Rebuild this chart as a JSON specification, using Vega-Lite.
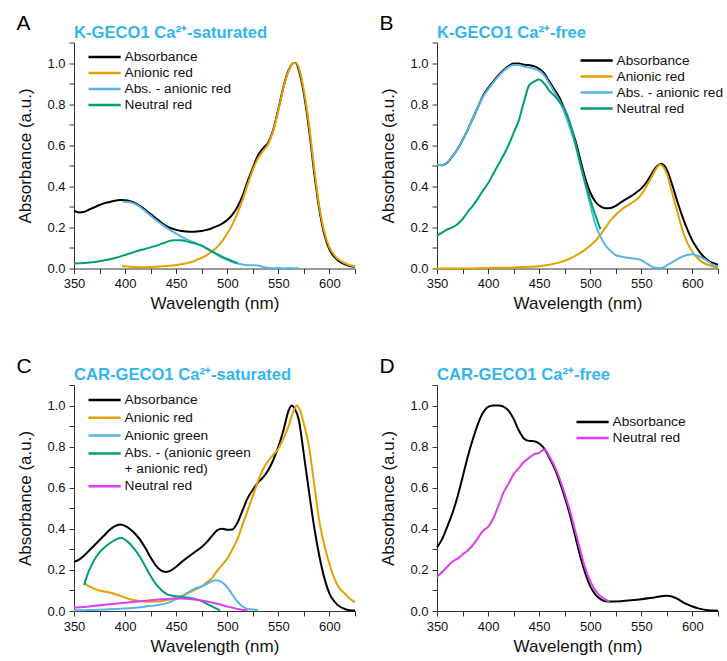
{
  "$schema": "https://vega.github.io/schema/vega-lite/v6.json",
  "padding": {"left": 16, "top": 12.5, "right": 0, "bottom": 0},
  "background": "white",
  "config": {
    "font": "Liberation Sans",
    "view": {"stroke": null},
    "axis": {"grid": false, "domainColor": "#333333", "tickColor": "#333333", "tickSize": 5, "labelFontSize": 13, "labelColor": "#111111", "titleFontSize": 17, "titleFontWeight": "normal", "titleColor": "#111111", "labelPadding": 4, "labelFlush": false, "labelOverlap": false},
    "axisX": {"titlePadding": 5},
    "axisY": {"titlePadding": 12.5},
    "legend": {"orient": "none", "title": null, "symbolType": "M-1,0H3.6", "symbolSize": 196, "symbolStrokeWidth": 2.5, "labelFontSize": 13.7, "labelColor": "#111111", "rowPadding": -0.8, "labelOffset": 20.5, "labelLimit": 300},
    "title": {"font": "Liberation Sans"}
  },
  "datasets": {
    "A": [
      {"wl":350,"v":0.281,"s":"Absorbance"},{"wl":355,"v":0.273,"s":"Absorbance"},{"wl":360,"v":0.276,"s":"Absorbance"},{"wl":365,"v":0.287,"s":"Absorbance"},{"wl":370,"v":0.298,"s":"Absorbance"},{"wl":375,"v":0.309,"s":"Absorbance"},{"wl":380,"v":0.318,"s":"Absorbance"},{"wl":385,"v":0.324,"s":"Absorbance"},{"wl":390,"v":0.33,"s":"Absorbance"},{"wl":395,"v":0.333,"s":"Absorbance"},{"wl":400,"v":0.332,"s":"Absorbance"},{"wl":405,"v":0.327,"s":"Absorbance"},{"wl":410,"v":0.318,"s":"Absorbance"},{"wl":415,"v":0.303,"s":"Absorbance"},{"wl":420,"v":0.285,"s":"Absorbance"},{"wl":425,"v":0.265,"s":"Absorbance"},{"wl":430,"v":0.245,"s":"Absorbance"},{"wl":435,"v":0.225,"s":"Absorbance"},{"wl":440,"v":0.208,"s":"Absorbance"},{"wl":445,"v":0.196,"s":"Absorbance"},{"wl":450,"v":0.188,"s":"Absorbance"},{"wl":455,"v":0.183,"s":"Absorbance"},{"wl":460,"v":0.18,"s":"Absorbance"},{"wl":465,"v":0.179,"s":"Absorbance"},{"wl":470,"v":0.18,"s":"Absorbance"},{"wl":475,"v":0.183,"s":"Absorbance"},{"wl":480,"v":0.188,"s":"Absorbance"},{"wl":485,"v":0.196,"s":"Absorbance"},{"wl":490,"v":0.206,"s":"Absorbance"},{"wl":495,"v":0.218,"s":"Absorbance"},{"wl":500,"v":0.236,"s":"Absorbance"},{"wl":505,"v":0.262,"s":"Absorbance"},{"wl":510,"v":0.3,"s":"Absorbance"},{"wl":515,"v":0.355,"s":"Absorbance"},{"wl":520,"v":0.425,"s":"Absorbance"},{"wl":525,"v":0.49,"s":"Absorbance"},{"wl":530,"v":0.55,"s":"Absorbance"},{"wl":535,"v":0.585,"s":"Absorbance"},{"wl":540,"v":0.612,"s":"Absorbance"},{"wl":545,"v":0.675,"s":"Absorbance"},{"wl":550,"v":0.775,"s":"Absorbance"},{"wl":555,"v":0.885,"s":"Absorbance"},{"wl":560,"v":0.965,"s":"Absorbance"},{"wl":565,"v":1.0,"s":"Absorbance"},{"wl":567,"v":1.0,"s":"Absorbance"},{"wl":570,"v":0.965,"s":"Absorbance"},{"wl":575,"v":0.85,"s":"Absorbance"},{"wl":580,"v":0.68,"s":"Absorbance"},{"wl":585,"v":0.47,"s":"Absorbance"},{"wl":590,"v":0.29,"s":"Absorbance"},{"wl":595,"v":0.165,"s":"Absorbance"},{"wl":600,"v":0.092,"s":"Absorbance"},{"wl":605,"v":0.055,"s":"Absorbance"},{"wl":610,"v":0.033,"s":"Absorbance"},{"wl":615,"v":0.02,"s":"Absorbance"},{"wl":620,"v":0.012,"s":"Absorbance"},{"wl":625,"v":0.008,"s":"Absorbance"},
      {"wl":397,"v":0.012,"s":"Anionic red"},{"wl":405,"v":0.008,"s":"Anionic red"},{"wl":410,"v":0.007,"s":"Anionic red"},{"wl":420,"v":0.006,"s":"Anionic red"},{"wl":430,"v":0.008,"s":"Anionic red"},{"wl":440,"v":0.012,"s":"Anionic red"},{"wl":450,"v":0.017,"s":"Anionic red"},{"wl":460,"v":0.026,"s":"Anionic red"},{"wl":466,"v":0.033,"s":"Anionic red"},{"wl":470,"v":0.042,"s":"Anionic red"},{"wl":475,"v":0.052,"s":"Anionic red"},{"wl":480,"v":0.065,"s":"Anionic red"},{"wl":485,"v":0.083,"s":"Anionic red"},{"wl":490,"v":0.104,"s":"Anionic red"},{"wl":495,"v":0.133,"s":"Anionic red"},{"wl":500,"v":0.17,"s":"Anionic red"},{"wl":505,"v":0.215,"s":"Anionic red"},{"wl":510,"v":0.27,"s":"Anionic red"},{"wl":515,"v":0.335,"s":"Anionic red"},{"wl":520,"v":0.41,"s":"Anionic red"},{"wl":525,"v":0.48,"s":"Anionic red"},{"wl":530,"v":0.535,"s":"Anionic red"},{"wl":535,"v":0.572,"s":"Anionic red"},{"wl":540,"v":0.605,"s":"Anionic red"},{"wl":545,"v":0.67,"s":"Anionic red"},{"wl":550,"v":0.77,"s":"Anionic red"},{"wl":555,"v":0.88,"s":"Anionic red"},{"wl":560,"v":0.962,"s":"Anionic red"},{"wl":565,"v":1.0,"s":"Anionic red"},{"wl":568,"v":0.997,"s":"Anionic red"},{"wl":571,"v":0.96,"s":"Anionic red"},{"wl":575,"v":0.865,"s":"Anionic red"},{"wl":580,"v":0.7,"s":"Anionic red"},{"wl":585,"v":0.49,"s":"Anionic red"},{"wl":590,"v":0.305,"s":"Anionic red"},{"wl":595,"v":0.178,"s":"Anionic red"},{"wl":600,"v":0.103,"s":"Anionic red"},{"wl":605,"v":0.063,"s":"Anionic red"},{"wl":610,"v":0.04,"s":"Anionic red"},{"wl":615,"v":0.026,"s":"Anionic red"},{"wl":620,"v":0.016,"s":"Anionic red"},{"wl":625,"v":0.01,"s":"Anionic red"},
      {"wl":398,"v":0.325,"s":"Abs. - anionic red"},{"wl":405,"v":0.322,"s":"Abs. - anionic red"},{"wl":410,"v":0.313,"s":"Abs. - anionic red"},{"wl":415,"v":0.298,"s":"Abs. - anionic red"},{"wl":420,"v":0.278,"s":"Abs. - anionic red"},{"wl":425,"v":0.257,"s":"Abs. - anionic red"},{"wl":430,"v":0.237,"s":"Abs. - anionic red"},{"wl":435,"v":0.218,"s":"Abs. - anionic red"},{"wl":440,"v":0.2,"s":"Abs. - anionic red"},{"wl":445,"v":0.185,"s":"Abs. - anionic red"},{"wl":450,"v":0.17,"s":"Abs. - anionic red"},{"wl":455,"v":0.155,"s":"Abs. - anionic red"},{"wl":460,"v":0.143,"s":"Abs. - anionic red"},{"wl":465,"v":0.132,"s":"Abs. - anionic red"},{"wl":470,"v":0.122,"s":"Abs. - anionic red"},{"wl":475,"v":0.112,"s":"Abs. - anionic red"},{"wl":480,"v":0.098,"s":"Abs. - anionic red"},{"wl":485,"v":0.082,"s":"Abs. - anionic red"},{"wl":490,"v":0.067,"s":"Abs. - anionic red"},{"wl":495,"v":0.052,"s":"Abs. - anionic red"},{"wl":500,"v":0.041,"s":"Abs. - anionic red"},{"wl":505,"v":0.031,"s":"Abs. - anionic red"},{"wl":510,"v":0.024,"s":"Abs. - anionic red"},{"wl":515,"v":0.019,"s":"Abs. - anionic red"},{"wl":520,"v":0.016,"s":"Abs. - anionic red"},{"wl":525,"v":0.016,"s":"Abs. - anionic red"},{"wl":530,"v":0.015,"s":"Abs. - anionic red"},{"wl":535,"v":0.008,"s":"Abs. - anionic red"},{"wl":540,"v":0.003,"s":"Abs. - anionic red"},{"wl":545,"v":0.001,"s":"Abs. - anionic red"},{"wl":550,"v":0.002,"s":"Abs. - anionic red"},{"wl":555,"v":0.0,"s":"Abs. - anionic red"},{"wl":560,"v":0.002,"s":"Abs. - anionic red"},{"wl":565,"v":0.001,"s":"Abs. - anionic red"},{"wl":570,"v":0.002,"s":"Abs. - anionic red"},
      {"wl":350,"v":0.024,"s":"Neutral red"},{"wl":360,"v":0.027,"s":"Neutral red"},{"wl":370,"v":0.032,"s":"Neutral red"},{"wl":380,"v":0.04,"s":"Neutral red"},{"wl":390,"v":0.051,"s":"Neutral red"},{"wl":400,"v":0.066,"s":"Neutral red"},{"wl":410,"v":0.082,"s":"Neutral red"},{"wl":420,"v":0.096,"s":"Neutral red"},{"wl":430,"v":0.11,"s":"Neutral red"},{"wl":440,"v":0.128,"s":"Neutral red"},{"wl":445,"v":0.136,"s":"Neutral red"},{"wl":450,"v":0.138,"s":"Neutral red"},{"wl":455,"v":0.137,"s":"Neutral red"},{"wl":460,"v":0.132,"s":"Neutral red"},{"wl":465,"v":0.126,"s":"Neutral red"},{"wl":470,"v":0.12,"s":"Neutral red"},{"wl":475,"v":0.11,"s":"Neutral red"},{"wl":480,"v":0.097,"s":"Neutral red"},{"wl":485,"v":0.083,"s":"Neutral red"},{"wl":490,"v":0.07,"s":"Neutral red"},{"wl":495,"v":0.058,"s":"Neutral red"},{"wl":500,"v":0.047,"s":"Neutral red"},{"wl":505,"v":0.036,"s":"Neutral red"},{"wl":510,"v":0.026,"s":"Neutral red"}
    ],
    "B": [
      {"wl":350,"v":0.505,"s":"Absorbance"},{"wl":355,"v":0.503,"s":"Absorbance"},{"wl":360,"v":0.515,"s":"Absorbance"},{"wl":365,"v":0.545,"s":"Absorbance"},{"wl":370,"v":0.58,"s":"Absorbance"},{"wl":375,"v":0.625,"s":"Absorbance"},{"wl":380,"v":0.675,"s":"Absorbance"},{"wl":385,"v":0.73,"s":"Absorbance"},{"wl":390,"v":0.785,"s":"Absorbance"},{"wl":395,"v":0.84,"s":"Absorbance"},{"wl":400,"v":0.878,"s":"Absorbance"},{"wl":405,"v":0.91,"s":"Absorbance"},{"wl":410,"v":0.94,"s":"Absorbance"},{"wl":415,"v":0.965,"s":"Absorbance"},{"wl":420,"v":0.985,"s":"Absorbance"},{"wl":425,"v":0.998,"s":"Absorbance"},{"wl":430,"v":0.998,"s":"Absorbance"},{"wl":435,"v":0.992,"s":"Absorbance"},{"wl":440,"v":0.99,"s":"Absorbance"},{"wl":445,"v":0.985,"s":"Absorbance"},{"wl":450,"v":0.972,"s":"Absorbance"},{"wl":455,"v":0.95,"s":"Absorbance"},{"wl":460,"v":0.91,"s":"Absorbance"},{"wl":465,"v":0.87,"s":"Absorbance"},{"wl":470,"v":0.83,"s":"Absorbance"},{"wl":475,"v":0.77,"s":"Absorbance"},{"wl":480,"v":0.7,"s":"Absorbance"},{"wl":485,"v":0.63,"s":"Absorbance"},{"wl":490,"v":0.535,"s":"Absorbance"},{"wl":495,"v":0.44,"s":"Absorbance"},{"wl":500,"v":0.37,"s":"Absorbance"},{"wl":505,"v":0.325,"s":"Absorbance"},{"wl":510,"v":0.302,"s":"Absorbance"},{"wl":515,"v":0.293,"s":"Absorbance"},{"wl":520,"v":0.295,"s":"Absorbance"},{"wl":525,"v":0.305,"s":"Absorbance"},{"wl":530,"v":0.322,"s":"Absorbance"},{"wl":535,"v":0.338,"s":"Absorbance"},{"wl":540,"v":0.352,"s":"Absorbance"},{"wl":545,"v":0.37,"s":"Absorbance"},{"wl":550,"v":0.39,"s":"Absorbance"},{"wl":555,"v":0.42,"s":"Absorbance"},{"wl":560,"v":0.46,"s":"Absorbance"},{"wl":565,"v":0.497,"s":"Absorbance"},{"wl":570,"v":0.51,"s":"Absorbance"},{"wl":575,"v":0.48,"s":"Absorbance"},{"wl":580,"v":0.41,"s":"Absorbance"},{"wl":585,"v":0.33,"s":"Absorbance"},{"wl":590,"v":0.255,"s":"Absorbance"},{"wl":595,"v":0.19,"s":"Absorbance"},{"wl":600,"v":0.135,"s":"Absorbance"},{"wl":605,"v":0.095,"s":"Absorbance"},{"wl":610,"v":0.062,"s":"Absorbance"},{"wl":615,"v":0.04,"s":"Absorbance"},{"wl":620,"v":0.027,"s":"Absorbance"},{"wl":625,"v":0.018,"s":"Absorbance"},
      {"wl":350,"v":0.0,"s":"Anionic red"},{"wl":375,"v":0.0,"s":"Anionic red"},{"wl":400,"v":0.003,"s":"Anionic red"},{"wl":420,"v":0.004,"s":"Anionic red"},{"wl":440,"v":0.008,"s":"Anionic red"},{"wl":450,"v":0.011,"s":"Anionic red"},{"wl":460,"v":0.018,"s":"Anionic red"},{"wl":470,"v":0.03,"s":"Anionic red"},{"wl":480,"v":0.048,"s":"Anionic red"},{"wl":490,"v":0.075,"s":"Anionic red"},{"wl":495,"v":0.092,"s":"Anionic red"},{"wl":500,"v":0.112,"s":"Anionic red"},{"wl":505,"v":0.135,"s":"Anionic red"},{"wl":510,"v":0.165,"s":"Anionic red"},{"wl":515,"v":0.2,"s":"Anionic red"},{"wl":520,"v":0.235,"s":"Anionic red"},{"wl":525,"v":0.262,"s":"Anionic red"},{"wl":530,"v":0.285,"s":"Anionic red"},{"wl":535,"v":0.302,"s":"Anionic red"},{"wl":540,"v":0.318,"s":"Anionic red"},{"wl":545,"v":0.335,"s":"Anionic red"},{"wl":550,"v":0.36,"s":"Anionic red"},{"wl":555,"v":0.4,"s":"Anionic red"},{"wl":560,"v":0.445,"s":"Anionic red"},{"wl":565,"v":0.49,"s":"Anionic red"},{"wl":568,"v":0.505,"s":"Anionic red"},{"wl":571,"v":0.497,"s":"Anionic red"},{"wl":575,"v":0.46,"s":"Anionic red"},{"wl":580,"v":0.37,"s":"Anionic red"},{"wl":585,"v":0.28,"s":"Anionic red"},{"wl":590,"v":0.19,"s":"Anionic red"},{"wl":595,"v":0.125,"s":"Anionic red"},{"wl":600,"v":0.08,"s":"Anionic red"},{"wl":605,"v":0.05,"s":"Anionic red"},{"wl":610,"v":0.03,"s":"Anionic red"},{"wl":615,"v":0.018,"s":"Anionic red"},{"wl":620,"v":0.01,"s":"Anionic red"},{"wl":625,"v":0.005,"s":"Anionic red"},
      {"wl":350,"v":0.505,"s":"Abs. - anionic red"},{"wl":355,"v":0.503,"s":"Abs. - anionic red"},{"wl":360,"v":0.515,"s":"Abs. - anionic red"},{"wl":365,"v":0.545,"s":"Abs. - anionic red"},{"wl":370,"v":0.58,"s":"Abs. - anionic red"},{"wl":375,"v":0.625,"s":"Abs. - anionic red"},{"wl":380,"v":0.675,"s":"Abs. - anionic red"},{"wl":385,"v":0.73,"s":"Abs. - anionic red"},{"wl":390,"v":0.785,"s":"Abs. - anionic red"},{"wl":395,"v":0.835,"s":"Abs. - anionic red"},{"wl":400,"v":0.872,"s":"Abs. - anionic red"},{"wl":405,"v":0.905,"s":"Abs. - anionic red"},{"wl":410,"v":0.935,"s":"Abs. - anionic red"},{"wl":415,"v":0.96,"s":"Abs. - anionic red"},{"wl":420,"v":0.98,"s":"Abs. - anionic red"},{"wl":425,"v":0.99,"s":"Abs. - anionic red"},{"wl":430,"v":0.99,"s":"Abs. - anionic red"},{"wl":435,"v":0.983,"s":"Abs. - anionic red"},{"wl":440,"v":0.978,"s":"Abs. - anionic red"},{"wl":445,"v":0.972,"s":"Abs. - anionic red"},{"wl":450,"v":0.962,"s":"Abs. - anionic red"},{"wl":455,"v":0.94,"s":"Abs. - anionic red"},{"wl":460,"v":0.9,"s":"Abs. - anionic red"},{"wl":465,"v":0.858,"s":"Abs. - anionic red"},{"wl":470,"v":0.815,"s":"Abs. - anionic red"},{"wl":475,"v":0.755,"s":"Abs. - anionic red"},{"wl":480,"v":0.685,"s":"Abs. - anionic red"},{"wl":485,"v":0.61,"s":"Abs. - anionic red"},{"wl":490,"v":0.51,"s":"Abs. - anionic red"},{"wl":495,"v":0.41,"s":"Abs. - anionic red"},{"wl":500,"v":0.31,"s":"Abs. - anionic red"},{"wl":505,"v":0.215,"s":"Abs. - anionic red"},{"wl":510,"v":0.155,"s":"Abs. - anionic red"},{"wl":515,"v":0.112,"s":"Abs. - anionic red"},{"wl":520,"v":0.085,"s":"Abs. - anionic red"},{"wl":525,"v":0.065,"s":"Abs. - anionic red"},{"wl":530,"v":0.058,"s":"Abs. - anionic red"},{"wl":535,"v":0.054,"s":"Abs. - anionic red"},{"wl":540,"v":0.05,"s":"Abs. - anionic red"},{"wl":545,"v":0.048,"s":"Abs. - anionic red"},{"wl":550,"v":0.04,"s":"Abs. - anionic red"},{"wl":555,"v":0.025,"s":"Abs. - anionic red"},{"wl":560,"v":0.01,"s":"Abs. - anionic red"},{"wl":565,"v":0.002,"s":"Abs. - anionic red"},{"wl":570,"v":0.003,"s":"Abs. - anionic red"},{"wl":575,"v":0.016,"s":"Abs. - anionic red"},{"wl":580,"v":0.03,"s":"Abs. - anionic red"},{"wl":585,"v":0.045,"s":"Abs. - anionic red"},{"wl":590,"v":0.058,"s":"Abs. - anionic red"},{"wl":595,"v":0.066,"s":"Abs. - anionic red"},{"wl":600,"v":0.069,"s":"Abs. - anionic red"},{"wl":605,"v":0.062,"s":"Abs. - anionic red"},{"wl":610,"v":0.05,"s":"Abs. - anionic red"},{"wl":615,"v":0.035,"s":"Abs. - anionic red"},{"wl":620,"v":0.018,"s":"Abs. - anionic red"},{"wl":625,"v":0.008,"s":"Abs. - anionic red"},
      {"wl":350,"v":0.16,"s":"Neutral red"},{"wl":355,"v":0.175,"s":"Neutral red"},{"wl":360,"v":0.19,"s":"Neutral red"},{"wl":365,"v":0.2,"s":"Neutral red"},{"wl":370,"v":0.215,"s":"Neutral red"},{"wl":375,"v":0.24,"s":"Neutral red"},{"wl":380,"v":0.275,"s":"Neutral red"},{"wl":385,"v":0.305,"s":"Neutral red"},{"wl":390,"v":0.34,"s":"Neutral red"},{"wl":395,"v":0.38,"s":"Neutral red"},{"wl":400,"v":0.415,"s":"Neutral red"},{"wl":405,"v":0.46,"s":"Neutral red"},{"wl":410,"v":0.505,"s":"Neutral red"},{"wl":415,"v":0.55,"s":"Neutral red"},{"wl":420,"v":0.6,"s":"Neutral red"},{"wl":425,"v":0.66,"s":"Neutral red"},{"wl":430,"v":0.72,"s":"Neutral red"},{"wl":435,"v":0.81,"s":"Neutral red"},{"wl":440,"v":0.89,"s":"Neutral red"},{"wl":445,"v":0.91,"s":"Neutral red"},{"wl":450,"v":0.92,"s":"Neutral red"},{"wl":455,"v":0.9,"s":"Neutral red"},{"wl":460,"v":0.865,"s":"Neutral red"},{"wl":465,"v":0.84,"s":"Neutral red"},{"wl":470,"v":0.81,"s":"Neutral red"},{"wl":475,"v":0.775,"s":"Neutral red"},{"wl":480,"v":0.71,"s":"Neutral red"},{"wl":485,"v":0.62,"s":"Neutral red"},{"wl":490,"v":0.515,"s":"Neutral red"},{"wl":495,"v":0.42,"s":"Neutral red"},{"wl":500,"v":0.335,"s":"Neutral red"},{"wl":505,"v":0.26,"s":"Neutral red"},{"wl":510,"v":0.19,"s":"Neutral red"}
    ],
    "C": [
      {"wl":350,"v":0.239,"s":"Absorbance"},{"wl":355,"v":0.25,"s":"Absorbance"},{"wl":360,"v":0.27,"s":"Absorbance"},{"wl":365,"v":0.295,"s":"Absorbance"},{"wl":370,"v":0.32,"s":"Absorbance"},{"wl":375,"v":0.345,"s":"Absorbance"},{"wl":380,"v":0.37,"s":"Absorbance"},{"wl":385,"v":0.395,"s":"Absorbance"},{"wl":390,"v":0.413,"s":"Absorbance"},{"wl":395,"v":0.421,"s":"Absorbance"},{"wl":400,"v":0.414,"s":"Absorbance"},{"wl":405,"v":0.398,"s":"Absorbance"},{"wl":410,"v":0.375,"s":"Absorbance"},{"wl":415,"v":0.345,"s":"Absorbance"},{"wl":420,"v":0.305,"s":"Absorbance"},{"wl":425,"v":0.26,"s":"Absorbance"},{"wl":430,"v":0.222,"s":"Absorbance"},{"wl":435,"v":0.198,"s":"Absorbance"},{"wl":440,"v":0.19,"s":"Absorbance"},{"wl":445,"v":0.198,"s":"Absorbance"},{"wl":450,"v":0.215,"s":"Absorbance"},{"wl":455,"v":0.237,"s":"Absorbance"},{"wl":460,"v":0.257,"s":"Absorbance"},{"wl":465,"v":0.275,"s":"Absorbance"},{"wl":470,"v":0.293,"s":"Absorbance"},{"wl":475,"v":0.312,"s":"Absorbance"},{"wl":480,"v":0.335,"s":"Absorbance"},{"wl":485,"v":0.365,"s":"Absorbance"},{"wl":490,"v":0.392,"s":"Absorbance"},{"wl":495,"v":0.4,"s":"Absorbance"},{"wl":500,"v":0.395,"s":"Absorbance"},{"wl":505,"v":0.397,"s":"Absorbance"},{"wl":510,"v":0.43,"s":"Absorbance"},{"wl":515,"v":0.49,"s":"Absorbance"},{"wl":520,"v":0.55,"s":"Absorbance"},{"wl":525,"v":0.59,"s":"Absorbance"},{"wl":530,"v":0.625,"s":"Absorbance"},{"wl":535,"v":0.65,"s":"Absorbance"},{"wl":540,"v":0.685,"s":"Absorbance"},{"wl":545,"v":0.735,"s":"Absorbance"},{"wl":550,"v":0.8,"s":"Absorbance"},{"wl":555,"v":0.88,"s":"Absorbance"},{"wl":560,"v":0.975,"s":"Absorbance"},{"wl":563,"v":1.0,"s":"Absorbance"},{"wl":566,"v":0.985,"s":"Absorbance"},{"wl":570,"v":0.93,"s":"Absorbance"},{"wl":575,"v":0.76,"s":"Absorbance"},{"wl":580,"v":0.58,"s":"Absorbance"},{"wl":585,"v":0.41,"s":"Absorbance"},{"wl":590,"v":0.27,"s":"Absorbance"},{"wl":595,"v":0.16,"s":"Absorbance"},{"wl":600,"v":0.085,"s":"Absorbance"},{"wl":605,"v":0.045,"s":"Absorbance"},{"wl":610,"v":0.022,"s":"Absorbance"},{"wl":615,"v":0.01,"s":"Absorbance"},{"wl":620,"v":0.004,"s":"Absorbance"},{"wl":625,"v":0.002,"s":"Absorbance"},
      {"wl":360,"v":0.138,"s":"Anionic red"},{"wl":363,"v":0.125,"s":"Anionic red"},{"wl":367,"v":0.115,"s":"Anionic red"},{"wl":370,"v":0.108,"s":"Anionic red"},{"wl":375,"v":0.1,"s":"Anionic red"},{"wl":380,"v":0.095,"s":"Anionic red"},{"wl":385,"v":0.09,"s":"Anionic red"},{"wl":390,"v":0.083,"s":"Anionic red"},{"wl":395,"v":0.075,"s":"Anionic red"},{"wl":400,"v":0.065,"s":"Anionic red"},{"wl":405,"v":0.057,"s":"Anionic red"},{"wl":410,"v":0.052,"s":"Anionic red"},{"wl":415,"v":0.048,"s":"Anionic red"},{"wl":420,"v":0.045,"s":"Anionic red"},{"wl":425,"v":0.045,"s":"Anionic red"},{"wl":430,"v":0.046,"s":"Anionic red"},{"wl":435,"v":0.048,"s":"Anionic red"},{"wl":440,"v":0.052,"s":"Anionic red"},{"wl":445,"v":0.057,"s":"Anionic red"},{"wl":450,"v":0.063,"s":"Anionic red"},{"wl":455,"v":0.072,"s":"Anionic red"},{"wl":460,"v":0.083,"s":"Anionic red"},{"wl":465,"v":0.095,"s":"Anionic red"},{"wl":470,"v":0.108,"s":"Anionic red"},{"wl":475,"v":0.12,"s":"Anionic red"},{"wl":480,"v":0.14,"s":"Anionic red"},{"wl":485,"v":0.16,"s":"Anionic red"},{"wl":490,"v":0.195,"s":"Anionic red"},{"wl":495,"v":0.225,"s":"Anionic red"},{"wl":500,"v":0.255,"s":"Anionic red"},{"wl":505,"v":0.3,"s":"Anionic red"},{"wl":510,"v":0.35,"s":"Anionic red"},{"wl":515,"v":0.42,"s":"Anionic red"},{"wl":520,"v":0.49,"s":"Anionic red"},{"wl":525,"v":0.56,"s":"Anionic red"},{"wl":530,"v":0.63,"s":"Anionic red"},{"wl":535,"v":0.69,"s":"Anionic red"},{"wl":540,"v":0.73,"s":"Anionic red"},{"wl":545,"v":0.76,"s":"Anionic red"},{"wl":550,"v":0.79,"s":"Anionic red"},{"wl":555,"v":0.84,"s":"Anionic red"},{"wl":560,"v":0.9,"s":"Anionic red"},{"wl":565,"v":0.975,"s":"Anionic red"},{"wl":568,"v":1.0,"s":"Anionic red"},{"wl":571,"v":0.98,"s":"Anionic red"},{"wl":575,"v":0.91,"s":"Anionic red"},{"wl":580,"v":0.8,"s":"Anionic red"},{"wl":585,"v":0.62,"s":"Anionic red"},{"wl":590,"v":0.44,"s":"Anionic red"},{"wl":595,"v":0.32,"s":"Anionic red"},{"wl":600,"v":0.23,"s":"Anionic red"},{"wl":605,"v":0.155,"s":"Anionic red"},{"wl":610,"v":0.11,"s":"Anionic red"},{"wl":615,"v":0.085,"s":"Anionic red"},{"wl":620,"v":0.06,"s":"Anionic red"},{"wl":625,"v":0.043,"s":"Anionic red"},
      {"wl":350,"v":0.003,"s":"Anionic green"},{"wl":360,"v":0.004,"s":"Anionic green"},{"wl":370,"v":0.005,"s":"Anionic green"},{"wl":380,"v":0.007,"s":"Anionic green"},{"wl":390,"v":0.01,"s":"Anionic green"},{"wl":400,"v":0.012,"s":"Anionic green"},{"wl":410,"v":0.016,"s":"Anionic green"},{"wl":420,"v":0.022,"s":"Anionic green"},{"wl":430,"v":0.028,"s":"Anionic green"},{"wl":440,"v":0.037,"s":"Anionic green"},{"wl":445,"v":0.046,"s":"Anionic green"},{"wl":450,"v":0.058,"s":"Anionic green"},{"wl":455,"v":0.07,"s":"Anionic green"},{"wl":460,"v":0.085,"s":"Anionic green"},{"wl":465,"v":0.1,"s":"Anionic green"},{"wl":470,"v":0.112,"s":"Anionic green"},{"wl":475,"v":0.12,"s":"Anionic green"},{"wl":480,"v":0.132,"s":"Anionic green"},{"wl":485,"v":0.145,"s":"Anionic green"},{"wl":488,"v":0.15,"s":"Anionic green"},{"wl":491,"v":0.149,"s":"Anionic green"},{"wl":495,"v":0.14,"s":"Anionic green"},{"wl":500,"v":0.115,"s":"Anionic green"},{"wl":505,"v":0.08,"s":"Anionic green"},{"wl":510,"v":0.045,"s":"Anionic green"},{"wl":515,"v":0.022,"s":"Anionic green"},{"wl":520,"v":0.01,"s":"Anionic green"},{"wl":525,"v":0.007,"s":"Anionic green"},{"wl":530,"v":0.006,"s":"Anionic green"},
      {"wl":360,"v":0.126,"s":"Abs. - (anionic green| + anionic red)"},{"wl":362,"v":0.16,"s":"Abs. - (anionic green| + anionic red)"},{"wl":365,"v":0.2,"s":"Abs. - (anionic green| + anionic red)"},{"wl":370,"v":0.25,"s":"Abs. - (anionic green| + anionic red)"},{"wl":375,"v":0.285,"s":"Abs. - (anionic green| + anionic red)"},{"wl":380,"v":0.31,"s":"Abs. - (anionic green| + anionic red)"},{"wl":385,"v":0.33,"s":"Abs. - (anionic green| + anionic red)"},{"wl":390,"v":0.345,"s":"Abs. - (anionic green| + anionic red)"},{"wl":396,"v":0.356,"s":"Abs. - (anionic green| + anionic red)"},{"wl":400,"v":0.347,"s":"Abs. - (anionic green| + anionic red)"},{"wl":405,"v":0.325,"s":"Abs. - (anionic green| + anionic red)"},{"wl":410,"v":0.296,"s":"Abs. - (anionic green| + anionic red)"},{"wl":415,"v":0.26,"s":"Abs. - (anionic green| + anionic red)"},{"wl":420,"v":0.215,"s":"Abs. - (anionic green| + anionic red)"},{"wl":425,"v":0.17,"s":"Abs. - (anionic green| + anionic red)"},{"wl":430,"v":0.132,"s":"Abs. - (anionic green| + anionic red)"},{"wl":435,"v":0.105,"s":"Abs. - (anionic green| + anionic red)"},{"wl":440,"v":0.085,"s":"Abs. - (anionic green| + anionic red)"},{"wl":445,"v":0.075,"s":"Abs. - (anionic green| + anionic red)"},{"wl":450,"v":0.072,"s":"Abs. - (anionic green| + anionic red)"},{"wl":455,"v":0.07,"s":"Abs. - (anionic green| + anionic red)"},{"wl":460,"v":0.066,"s":"Abs. - (anionic green| + anionic red)"},{"wl":465,"v":0.062,"s":"Abs. - (anionic green| + anionic red)"},{"wl":470,"v":0.056,"s":"Abs. - (anionic green| + anionic red)"},{"wl":475,"v":0.048,"s":"Abs. - (anionic green| + anionic red)"},{"wl":480,"v":0.035,"s":"Abs. - (anionic green| + anionic red)"},{"wl":485,"v":0.022,"s":"Abs. - (anionic green| + anionic red)"},{"wl":490,"v":0.01,"s":"Abs. - (anionic green| + anionic red)"},{"wl":493,"v":0.002,"s":"Abs. - (anionic green| + anionic red)"},
      {"wl":350,"v":0.016,"s":"Neutral red"},{"wl":360,"v":0.02,"s":"Neutral red"},{"wl":370,"v":0.025,"s":"Neutral red"},{"wl":380,"v":0.03,"s":"Neutral red"},{"wl":390,"v":0.035,"s":"Neutral red"},{"wl":400,"v":0.04,"s":"Neutral red"},{"wl":410,"v":0.045,"s":"Neutral red"},{"wl":420,"v":0.05,"s":"Neutral red"},{"wl":430,"v":0.055,"s":"Neutral red"},{"wl":440,"v":0.059,"s":"Neutral red"},{"wl":450,"v":0.061,"s":"Neutral red"},{"wl":455,"v":0.061,"s":"Neutral red"},{"wl":460,"v":0.06,"s":"Neutral red"},{"wl":470,"v":0.055,"s":"Neutral red"},{"wl":480,"v":0.046,"s":"Neutral red"},{"wl":490,"v":0.035,"s":"Neutral red"},{"wl":500,"v":0.022,"s":"Neutral red"},{"wl":510,"v":0.01,"s":"Neutral red"},{"wl":520,"v":0.003,"s":"Neutral red"}
    ],
    "D": [
      {"wl":350,"v":0.31,"s":"Absorbance"},{"wl":355,"v":0.35,"s":"Absorbance"},{"wl":360,"v":0.41,"s":"Absorbance"},{"wl":365,"v":0.475,"s":"Absorbance"},{"wl":370,"v":0.555,"s":"Absorbance"},{"wl":375,"v":0.65,"s":"Absorbance"},{"wl":380,"v":0.75,"s":"Absorbance"},{"wl":385,"v":0.835,"s":"Absorbance"},{"wl":390,"v":0.91,"s":"Absorbance"},{"wl":395,"v":0.965,"s":"Absorbance"},{"wl":400,"v":0.993,"s":"Absorbance"},{"wl":405,"v":1.0,"s":"Absorbance"},{"wl":410,"v":1.0,"s":"Absorbance"},{"wl":415,"v":0.995,"s":"Absorbance"},{"wl":420,"v":0.975,"s":"Absorbance"},{"wl":425,"v":0.935,"s":"Absorbance"},{"wl":430,"v":0.88,"s":"Absorbance"},{"wl":435,"v":0.84,"s":"Absorbance"},{"wl":440,"v":0.828,"s":"Absorbance"},{"wl":445,"v":0.826,"s":"Absorbance"},{"wl":450,"v":0.815,"s":"Absorbance"},{"wl":455,"v":0.79,"s":"Absorbance"},{"wl":460,"v":0.745,"s":"Absorbance"},{"wl":465,"v":0.695,"s":"Absorbance"},{"wl":470,"v":0.63,"s":"Absorbance"},{"wl":475,"v":0.555,"s":"Absorbance"},{"wl":480,"v":0.47,"s":"Absorbance"},{"wl":485,"v":0.37,"s":"Absorbance"},{"wl":490,"v":0.27,"s":"Absorbance"},{"wl":495,"v":0.185,"s":"Absorbance"},{"wl":500,"v":0.12,"s":"Absorbance"},{"wl":505,"v":0.08,"s":"Absorbance"},{"wl":510,"v":0.058,"s":"Absorbance"},{"wl":515,"v":0.048,"s":"Absorbance"},{"wl":520,"v":0.046,"s":"Absorbance"},{"wl":530,"v":0.048,"s":"Absorbance"},{"wl":540,"v":0.052,"s":"Absorbance"},{"wl":550,"v":0.057,"s":"Absorbance"},{"wl":560,"v":0.064,"s":"Absorbance"},{"wl":570,"v":0.072,"s":"Absorbance"},{"wl":575,"v":0.074,"s":"Absorbance"},{"wl":580,"v":0.071,"s":"Absorbance"},{"wl":585,"v":0.06,"s":"Absorbance"},{"wl":590,"v":0.045,"s":"Absorbance"},{"wl":595,"v":0.032,"s":"Absorbance"},{"wl":600,"v":0.022,"s":"Absorbance"},{"wl":605,"v":0.014,"s":"Absorbance"},{"wl":610,"v":0.008,"s":"Absorbance"},{"wl":615,"v":0.004,"s":"Absorbance"},{"wl":620,"v":0.002,"s":"Absorbance"},{"wl":625,"v":0.001,"s":"Absorbance"},
      {"wl":350,"v":0.167,"s":"Neutral red"},{"wl":355,"v":0.19,"s":"Neutral red"},{"wl":360,"v":0.215,"s":"Neutral red"},{"wl":365,"v":0.24,"s":"Neutral red"},{"wl":370,"v":0.255,"s":"Neutral red"},{"wl":375,"v":0.275,"s":"Neutral red"},{"wl":380,"v":0.295,"s":"Neutral red"},{"wl":385,"v":0.32,"s":"Neutral red"},{"wl":390,"v":0.355,"s":"Neutral red"},{"wl":395,"v":0.39,"s":"Neutral red"},{"wl":400,"v":0.41,"s":"Neutral red"},{"wl":405,"v":0.45,"s":"Neutral red"},{"wl":410,"v":0.51,"s":"Neutral red"},{"wl":415,"v":0.575,"s":"Neutral red"},{"wl":420,"v":0.62,"s":"Neutral red"},{"wl":425,"v":0.665,"s":"Neutral red"},{"wl":430,"v":0.695,"s":"Neutral red"},{"wl":435,"v":0.725,"s":"Neutral red"},{"wl":440,"v":0.745,"s":"Neutral red"},{"wl":445,"v":0.762,"s":"Neutral red"},{"wl":450,"v":0.77,"s":"Neutral red"},{"wl":455,"v":0.786,"s":"Neutral red"},{"wl":460,"v":0.752,"s":"Neutral red"},{"wl":465,"v":0.705,"s":"Neutral red"},{"wl":470,"v":0.645,"s":"Neutral red"},{"wl":475,"v":0.57,"s":"Neutral red"},{"wl":480,"v":0.49,"s":"Neutral red"},{"wl":485,"v":0.395,"s":"Neutral red"},{"wl":490,"v":0.3,"s":"Neutral red"},{"wl":495,"v":0.21,"s":"Neutral red"},{"wl":500,"v":0.145,"s":"Neutral red"},{"wl":505,"v":0.1,"s":"Neutral red"},{"wl":510,"v":0.073,"s":"Neutral red"},{"wl":515,"v":0.055,"s":"Neutral red"},{"wl":519,"v":0.046,"s":"Neutral red"}
    ]
  },
  "resolve": {"scale": {"color": "independent"}, "legend": {"color": "independent"}},
  "spacing": 43.5,
  "vconcat": [
    {
      "hconcat": [
        {
          "title": {"text": "A", "anchor": "start", "frame": "bounds", "fontSize": 21, "fontWeight": "normal", "color": "#000000", "offset": -9.3},
          "resolve": {"scale": {"color": "independent"}, "legend": {"color": "independent"}},
          "vconcat": [
            {
              "width": 281, "height": 226,
              "data": {"name": "A"},
              "title": {"text": "K-GECO1 Ca²⁺-saturated", "anchor": "start", "frame": "group", "color": "#33B5F0", "fontSize": 16.6, "fontWeight": "bold", "offset": -5},
              "mark": {"type": "line", "strokeWidth": 2, "interpolate": "monotone"},
              "encoding": {
                "x": {"field": "wl", "type": "quantitative", "scale": {"domain": [350, 625], "nice": false, "zero": false}, "axis": {"title": "Wavelength (nm)", "values": [350,375,400,425,450,475,500,525,550,575,600,625], "labelExpr": "datum.value % 50 == 0 ? datum.label : ''"}},
                "y": {"field": "v", "type": "quantitative", "scale": {"domain": [0, 1.1], "nice": false}, "axis": {"title": "Absorbance (a.u.)", "values": [0,0.1,0.2,0.3,0.4,0.5,0.6,0.7,0.8,0.9,1.0,1.1], "labelExpr": "(round(datum.value*10) % 2 == 0 && datum.value < 1.05) ? format(datum.value, '.1f') : ''"}},
                "color": {"field": "s", "type": "nominal", "scale": {"domain": ["Absorbance","Anionic red","Abs. - anionic red","Neutral red"], "range": ["#000000","#E69F00","#56B4E9","#009E73"]}, "legend": {"legendX": 13, "legendY": 6}}
              }
            }
          ]
        },
        {
          "title": {"text": "B", "anchor": "start", "frame": "bounds", "fontSize": 21, "fontWeight": "normal", "color": "#000000", "offset": -9.3},
          "resolve": {"scale": {"color": "independent"}, "legend": {"color": "independent"}},
          "vconcat": [
            {
              "width": 281, "height": 226,
              "data": {"name": "B"},
              "title": {"text": "K-GECO1 Ca²⁺-free", "anchor": "start", "frame": "group", "color": "#33B5F0", "fontSize": 16.6, "fontWeight": "bold", "offset": -5},
              "mark": {"type": "line", "strokeWidth": 2, "interpolate": "monotone"},
              "encoding": {
                "x": {"field": "wl", "type": "quantitative", "scale": {"domain": [350, 625], "nice": false, "zero": false}, "axis": {"title": "Wavelength (nm)", "values": [350,375,400,425,450,475,500,525,550,575,600,625], "labelExpr": "datum.value % 50 == 0 ? datum.label : ''"}},
                "y": {"field": "v", "type": "quantitative", "scale": {"domain": [0, 1.1], "nice": false}, "axis": {"title": "Absorbance (a.u.)", "values": [0,0.1,0.2,0.3,0.4,0.5,0.6,0.7,0.8,0.9,1.0,1.1], "labelExpr": "(round(datum.value*10) % 2 == 0 && datum.value < 1.05) ? format(datum.value, '.1f') : ''"}},
                "color": {"field": "s", "type": "nominal", "scale": {"domain": ["Absorbance","Anionic red","Abs. - anionic red","Neutral red"], "range": ["#000000","#E69F00","#56B4E9","#009E73"]}, "legend": {"legendX": 142, "legendY": 9.5}}
              }
            }
          ]
        }
      ],
      "spacing": 20,
      "resolve": {"scale": {"color": "independent"}, "legend": {"color": "independent"}}
    },
    {
      "hconcat": [
        {
          "title": {"text": "C", "anchor": "start", "frame": "bounds", "fontSize": 21, "fontWeight": "normal", "color": "#000000", "offset": -9.3},
          "resolve": {"scale": {"color": "independent"}, "legend": {"color": "independent"}},
          "vconcat": [
            {
              "width": 281, "height": 226,
              "data": {"name": "C"},
              "title": {"text": "CAR-GECO1 Ca²⁺-saturated", "anchor": "start", "frame": "group", "color": "#33B5F0", "fontSize": 16.6, "fontWeight": "bold", "offset": -5},
              "mark": {"type": "line", "strokeWidth": 2, "interpolate": "monotone"},
              "encoding": {
                "x": {"field": "wl", "type": "quantitative", "scale": {"domain": [350, 625], "nice": false, "zero": false}, "axis": {"title": "Wavelength (nm)", "values": [350,375,400,425,450,475,500,525,550,575,600,625], "labelExpr": "datum.value % 50 == 0 ? datum.label : ''"}},
                "y": {"field": "v", "type": "quantitative", "scale": {"domain": [0, 1.1], "nice": false}, "axis": {"title": "Absorbance (a.u.)", "values": [0,0.1,0.2,0.3,0.4,0.5,0.6,0.7,0.8,0.9,1.0,1.1], "labelExpr": "(round(datum.value*10) % 2 == 0 && datum.value < 1.05) ? format(datum.value, '.1f') : ''"}},
                "color": {"field": "s", "type": "nominal", "scale": {"domain": ["Absorbance","Anionic red","Anionic green","Abs. - (anionic green| + anionic red)","Neutral red"], "range": ["#000000","#E69F00","#56B4E9","#009E73","#DD3EF5"]}, "legend": {"legendX": 13, "legendY": 6.5, "rowPadding": 1.8, "labelExpr": "split(datum.label, '|')"}}
              }
            }
          ]
        },
        {
          "title": {"text": "D", "anchor": "start", "frame": "bounds", "fontSize": 21, "fontWeight": "normal", "color": "#000000", "offset": -9.3},
          "resolve": {"scale": {"color": "independent"}, "legend": {"color": "independent"}},
          "vconcat": [
            {
              "width": 281, "height": 226,
              "data": {"name": "D"},
              "title": {"text": "CAR-GECO1 Ca²⁺-free", "anchor": "start", "frame": "group", "color": "#33B5F0", "fontSize": 16.6, "fontWeight": "bold", "offset": -5},
              "mark": {"type": "line", "strokeWidth": 2, "interpolate": "monotone"},
              "encoding": {
                "x": {"field": "wl", "type": "quantitative", "scale": {"domain": [350, 625], "nice": false, "zero": false}, "axis": {"title": "Wavelength (nm)", "values": [350,375,400,425,450,475,500,525,550,575,600,625], "labelExpr": "datum.value % 50 == 0 ? datum.label : ''"}},
                "y": {"field": "v", "type": "quantitative", "scale": {"domain": [0, 1.1], "nice": false}, "axis": {"title": "Absorbance (a.u.)", "values": [0,0.1,0.2,0.3,0.4,0.5,0.6,0.7,0.8,0.9,1.0,1.1], "labelExpr": "(round(datum.value*10) % 2 == 0 && datum.value < 1.05) ? format(datum.value, '.1f') : ''"}},
                "color": {"field": "s", "type": "nominal", "scale": {"domain": ["Absorbance","Neutral red"], "range": ["#000000","#DD3EF5"]}, "legend": {"legendX": 138, "legendY": 28.5}}
              }
            }
          ]
        }
      ],
      "spacing": 20,
      "resolve": {"scale": {"color": "independent"}, "legend": {"color": "independent"}}
    }
  ]
}
